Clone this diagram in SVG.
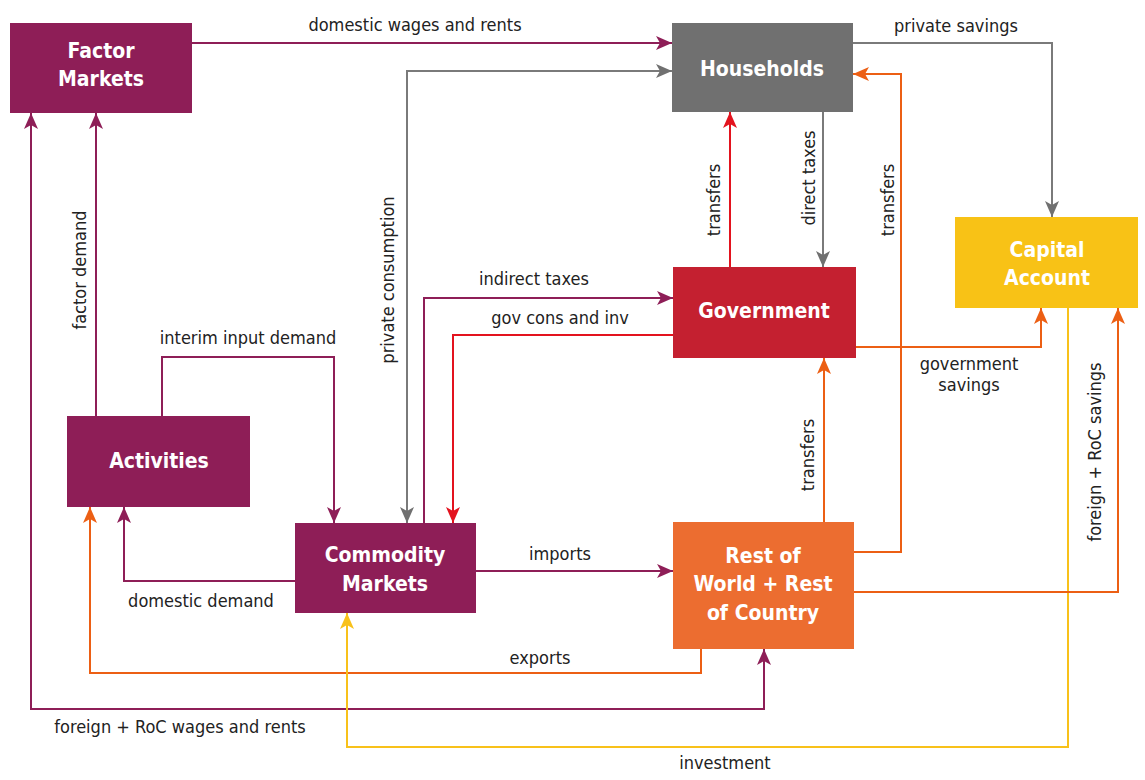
<svg xmlns="http://www.w3.org/2000/svg" width="1145" height="780" viewBox="0 0 1145 780">
<style>
.node text{font-family:"Liberation Sans Narrow","DejaVu Sans Condensed","Liberation Sans",sans-serif;font-weight:bold;font-size:21px;fill:#fff;text-anchor:middle}
.lbl{font-family:"Liberation Sans Narrow","DejaVu Sans Condensed","Liberation Sans",sans-serif;font-size:18px;fill:#222;text-anchor:middle}
.c{fill:none;stroke-width:2}
.pu{stroke:#8E1E57}.gr{stroke:#7A7A7A}.rd{stroke:#E3131E}.or{stroke:#EC5F14}.ye{stroke:#F8C11A}
</style>
<defs>
<marker id="mpu" viewBox="0 0 16 14" refX="16" refY="7" markerWidth="16" markerHeight="14" markerUnits="userSpaceOnUse" orient="auto-start-reverse"><path d="M0,0L16,7L0,14L4,7z" fill="#8E1E57"/></marker>
<marker id="mgr" viewBox="0 0 16 14" refX="16" refY="7" markerWidth="16" markerHeight="14" markerUnits="userSpaceOnUse" orient="auto-start-reverse"><path d="M0,0L16,7L0,14L4,7z" fill="#707070"/></marker>
<marker id="mrd" viewBox="0 0 16 14" refX="16" refY="7" markerWidth="16" markerHeight="14" markerUnits="userSpaceOnUse" orient="auto-start-reverse"><path d="M0,0L16,7L0,14L4,7z" fill="#E3131E"/></marker>
<marker id="mor" viewBox="0 0 16 14" refX="16" refY="7" markerWidth="16" markerHeight="14" markerUnits="userSpaceOnUse" orient="auto-start-reverse"><path d="M0,0L16,7L0,14L4,7z" fill="#EC5F14"/></marker>
<marker id="mye" viewBox="0 0 16 14" refX="16" refY="7" markerWidth="16" markerHeight="14" markerUnits="userSpaceOnUse" orient="auto-start-reverse"><path d="M0,0L16,7L0,14L4,7z" fill="#F8C11A"/></marker>
</defs>
<rect width="1145" height="780" fill="#fff"/>
<g id="connectors">
<path class="c pu" d="M192,43H672" marker-end="url(#mpu)"/>
<path class="c gr" d="M407,523V71H672" marker-start="url(#mgr)" marker-end="url(#mgr)"/>
<path class="c pu" d="M96,416V113" marker-end="url(#mpu)"/>
<path class="c pu" d="M31,113V709H764V649" marker-start="url(#mpu)" marker-end="url(#mpu)"/>
<path class="c or" d="M701,648V673H90V507" marker-end="url(#mor)"/>
<path class="c ye" d="M1068,308V747H347V613" marker-end="url(#mye)"/>
<path class="c pu" d="M162,416V357H334V523" marker-end="url(#mpu)"/>
<path class="c pu" d="M295,581H124V507" marker-end="url(#mpu)"/>
<path class="c pu" d="M424,523V298H673" marker-end="url(#mpu)"/>
<path class="c rd" d="M673,335H453V523" marker-end="url(#mrd)"/>
<path class="c rd" d="M730,267V112" marker-end="url(#mrd)"/>
<path class="c gr" d="M823,112V267" marker-end="url(#mgr)"/>
<path class="c or" d="M854,552H901V74H853" marker-end="url(#mor)"/>
<path class="c gr" d="M852,43H1052V217" marker-end="url(#mgr)"/>
<path class="c or" d="M856,347H1041V308" marker-end="url(#mor)"/>
<path class="c or" d="M854,592H1118V308" marker-end="url(#mor)"/>
<path class="c or" d="M824,522V358" marker-end="url(#mor)"/>
<path class="c pu" d="M476,571H673" marker-end="url(#mpu)"/>
</g>
<g id="labels">
<text class="lbl" x="415" y="31">domestic wages and rents</text>
<text class="lbl" x="956" y="32">private savings</text>
<text class="lbl" transform="translate(394,280) rotate(-90)">private consumption</text>
<text class="lbl" transform="translate(86,270) rotate(-90)">factor demand</text>
<text class="lbl" x="248" y="344">interim input demand</text>
<text class="lbl" x="201" y="607">domestic demand</text>
<text class="lbl" x="534" y="285">indirect taxes</text>
<text class="lbl" x="560" y="324">gov cons and inv</text>
<text class="lbl" x="560" y="560">imports</text>
<text class="lbl" x="540" y="664">exports</text>
<text class="lbl" x="180" y="733">foreign + RoC wages and rents</text>
<text class="lbl" x="725" y="769">investment</text>
<text class="lbl" transform="translate(720,200) rotate(-90)">transfers</text>
<text class="lbl" transform="translate(815,178) rotate(-90)">direct taxes</text>
<text class="lbl" transform="translate(894,200) rotate(-90)">transfers</text>
<text class="lbl" transform="translate(814,455) rotate(-90)">transfers</text>
<text class="lbl" transform="translate(1101,452) rotate(-90)">foreign + RoC savings</text>
<text class="lbl" x="969" y="370">government</text>
<text class="lbl" x="969" y="391">savings</text>
</g>
<g id="factor-markets" class="node"><rect x="10" y="23" width="182" height="90" fill="#8E1E57"/><text x="101" y="58">Factor</text><text x="101" y="86">Markets</text></g>
<g id="households" class="node"><rect x="672" y="23" width="181" height="89" fill="#707070"/><text x="762" y="76">Households</text></g>
<g id="capital-account" class="node"><rect x="955" y="217" width="183" height="91" fill="#F8C216"/><text x="1047" y="257">Capital</text><text x="1047" y="285">Account</text></g>
<g id="government" class="node"><rect x="673" y="267" width="183" height="91" fill="#C42030"/><text x="764" y="318">Government</text></g>
<g id="activities" class="node"><rect x="67" y="416" width="183" height="91" fill="#8E1E57"/><text x="159" y="468">Activities</text></g>
<g id="commodity-markets" class="node"><rect x="295" y="523" width="181" height="90" fill="#8E1E57"/><text x="385" y="562">Commodity</text><text x="385" y="591">Markets</text></g>
<g id="rest-of-world" class="node"><rect x="673" y="522" width="181" height="127" fill="#EC6D30"/><text x="763" y="563">Rest of</text><text x="763" y="591">World + Rest</text><text x="763" y="620">of Country</text></g>
</svg>
